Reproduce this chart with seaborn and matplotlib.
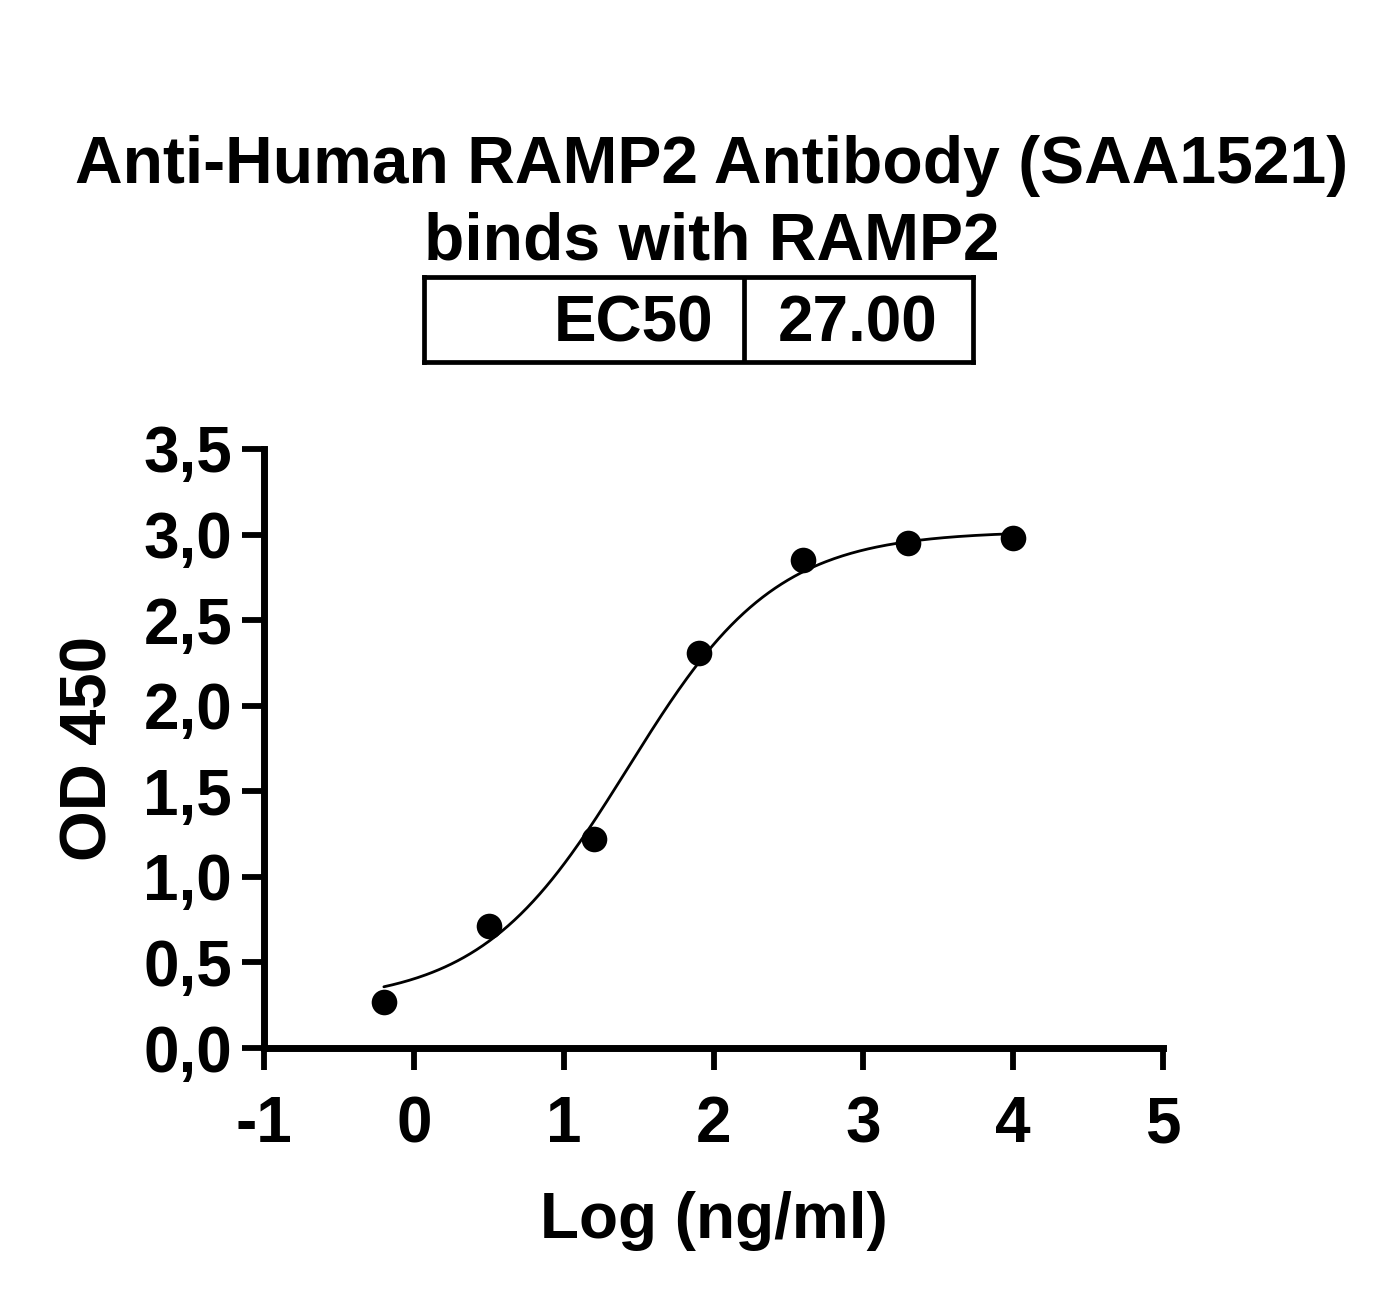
"""
RAMP2 抗体结合曲线 (ELISA, 4PL 拟合)
"""
import numpy as np
import pandas as pd
import matplotlib
matplotlib.use("Agg")
import matplotlib.pyplot as plt
import seaborn as sns
from matplotlib.ticker import FuncFormatter

sns.set_theme(style="ticks")
plt.rcParams['font.family'] = ['Liberation Sans', 'DejaVu Sans']
plt.rcParams['font.weight'] = 'bold'
plt.rcParams['text.color'] = 'black'
plt.rcParams['axes.labelcolor'] = 'black'
plt.rcParams['xtick.color'] = 'black'
plt.rcParams['ytick.color'] = 'black'
plt.rcParams['axes.edgecolor'] = 'black'

# 数据
log_conc = [-0.2, 0.5, 1.2, 1.9, 2.6, 3.3, 4.0]
od450 = [0.27, 0.71, 1.22, 2.31, 2.85, 2.95, 2.98]

# 4PL 拟合参数（从图上估计）
bottom = 0.26
top = 3.02
ec50 = 27.00
hill = 0.88

title_text = "Anti-Human RAMP2 Antibody (SAA1521)\nbinds with RAMP2"
x_ticks = [-1, 0, 1, 2, 3, 4, 5]
y_ticks = [0.0, 0.5, 1.0, 1.5, 2.0, 2.5, 3.0, 3.5]

W, H = 1391, 1295
fig = plt.figure(figsize=(W / 100, H / 100), dpi=100)
ax = fig.add_axes([264 / W, 1 - 1048 / H, (1163 - 264) / W, (1048 - 449) / H])

df = pd.DataFrame({'x': log_conc, 'y': od450})

# 拟合曲线
xs = np.linspace(min(log_conc), max(log_conc), 300)
ys = bottom + (top - bottom) / (1 + 10 ** ((np.log10(ec50) - xs) * hill))
curve = pd.DataFrame({'x': xs, 'y': ys})
sns.lineplot(data=curve, x='x', y='y', ax=ax, color='black', linewidth=2.0)
sns.scatterplot(data=df, x='x', y='y', ax=ax, color='black', s=340,
                edgecolor='black', linewidth=0, zorder=3)

ax.set_xlim(-1, 5)
ax.set_ylim(0, 3.5)
ax.set_xticks(x_ticks)
ax.set_yticks(y_ticks)
ax.yaxis.set_major_formatter(FuncFormatter(lambda v, p: f"{v:.1f}".replace('.', ',')))
ax.xaxis.set_major_formatter(FuncFormatter(lambda v, p: f"{int(v)}"))
sns.despine(ax=ax)
for s in ['left', 'bottom']:
    ax.spines[s].set_linewidth(5.0)
    ax.spines[s].set_capstyle('projecting')
ax.tick_params(axis='both', length=16, width=4.2, labelsize=46, colors='black')
ax.tick_params(axis='x', pad=18)
ax.tick_params(axis='y', pad=7)
for lab in ax.get_xticklabels() + ax.get_yticklabels():
    lab.set_fontweight('bold')
ax.set_xlabel('Log (ng/ml)', fontsize=46, fontweight='bold', labelpad=26)
ax.set_ylabel('OD 450', fontsize=47, fontweight='bold', labelpad=17)

# 标题
fig.text(712 / W, 1 - 204 / H, title_text, ha='center', va='center',
         fontsize=47.5, fontweight='bold', linespacing=1.3)

# EC50 表格
tx0, tx1, ty0, ty1 = 424, 973, 277, 362
ax_t = fig.add_axes([tx0 / W, 1 - ty1 / H, (tx1 - tx0) / W, (ty1 - ty0) / H])
ax_t.set_xlim(tx0, tx1)
ax_t.set_ylim(0, 1)
ax_t.set_xticks([])
ax_t.set_yticks([])
for s in ax_t.spines.values():
    s.set_linewidth(3.4)
    s.set_color('black')
ax_t.axvline(744, color='black', linewidth=3.4)
ax_t.text(713, 0.44, 'EC50', ha='right', va='center', fontsize=46, fontweight='bold')
ax_t.text(858, 0.44, f"{ec50:.2f}", ha='center', va='center', fontsize=46, fontweight='bold')

fig.savefig('out.png', dpi=100)
